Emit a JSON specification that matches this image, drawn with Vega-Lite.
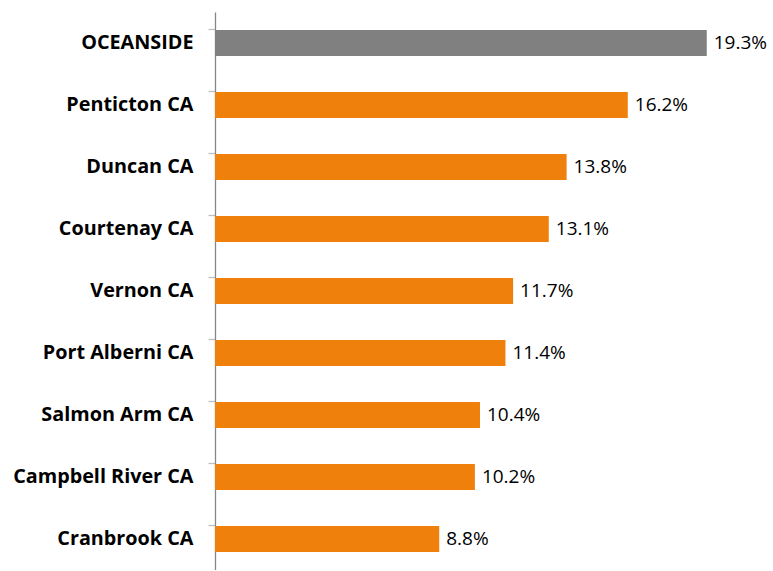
{
  "$schema": "https://vega.github.io/schema/vega-lite/v6.json",
  "autosize": "none",
  "width": 558,
  "height": 558,
  "padding": {"left": 215, "top": 12, "right": 0, "bottom": 0},
  "background": "white",
  "config": {"view": {"stroke": null}},
  "data": {"values": [
    {"name": "OCEANSIDE", "value": 19.3, "group": "oceanside"},
    {"name": "Penticton CA", "value": 16.2, "group": "other"},
    {"name": "Duncan CA", "value": 13.8, "group": "other"},
    {"name": "Courtenay CA", "value": 13.1, "group": "other"},
    {"name": "Vernon CA", "value": 11.7, "group": "other"},
    {"name": "Port Alberni CA", "value": 11.4, "group": "other"},
    {"name": "Salmon Arm CA", "value": 10.4, "group": "other"},
    {"name": "Campbell River CA", "value": 10.2, "group": "other"},
    {"name": "Cranbrook CA", "value": 8.8, "group": "other"}
  ]},
  "encoding": {
    "y": {
      "field": "name", "type": "nominal", "sort": null,
      "scale": {"paddingInner": 0.58, "paddingOuter": 0.29},
      "axis": {
        "title": null, "domainColor": "#868686", "domainWidth": 1.3,
        "tickColor": "#bfbfbf", "tickSize": 7, "tickWidth": 1.3, "bandPosition": 0,
        "labelPadding": 15, "labelFont": "Open Sans", "labelFontWeight": "bold",
        "labelFontSize": 19.8, "labelColor": "#000000", "labelLimit": 300
      }
    },
    "x": {
      "field": "value", "type": "quantitative",
      "scale": {"domain": [0, 21.9], "nice": false},
      "axis": null
    }
  },
  "layer": [
    {
      "mark": {"type": "bar"},
      "encoding": {
        "color": {
          "field": "group", "type": "nominal",
          "scale": {"domain": ["oceanside", "other"], "range": ["#808080", "#EF800B"]},
          "legend": null
        }
      }
    },
    {
      "mark": {"type": "text", "align": "left", "baseline": "middle", "dx": 7, "font": "Open Sans", "fontSize": 19, "color": "#000000",
        "text": {"expr": "format(datum.value, '.1f') + '%'"}},
      "encoding": {}
    }
  ]
}
